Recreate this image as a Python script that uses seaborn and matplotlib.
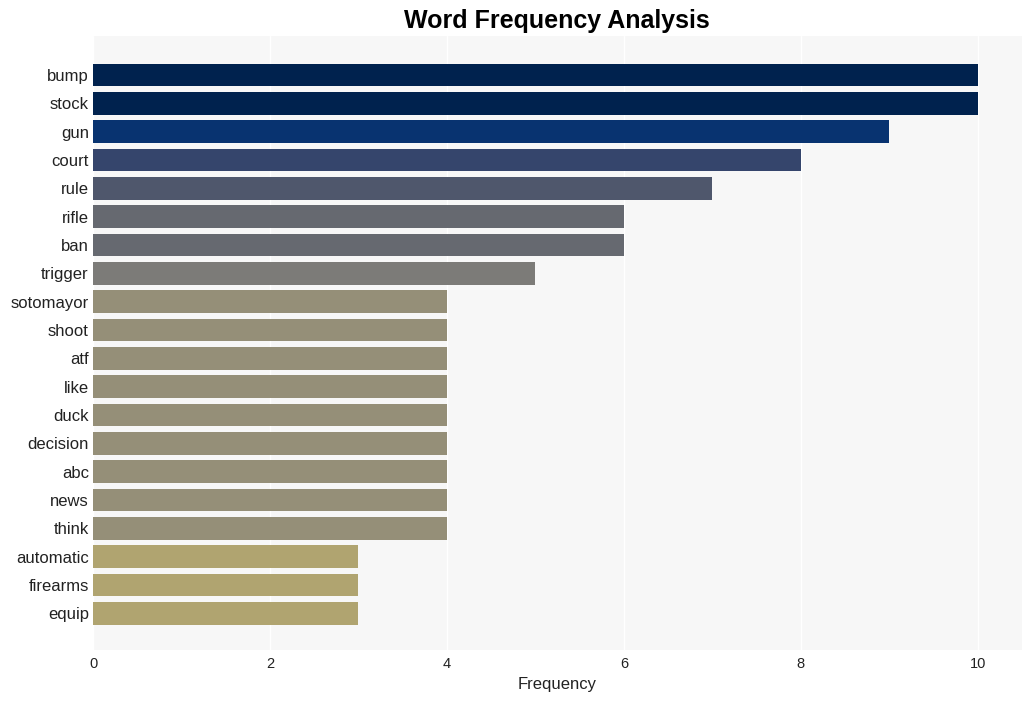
import matplotlib
matplotlib.use("Agg")
import matplotlib.pyplot as plt
import seaborn as sns
import pandas as pd

words = ["bump", "stock", "gun", "court", "rule", "rifle", "ban", "trigger",
         "sotomayor", "shoot", "atf", "like", "duck", "decision", "abc", "news",
         "think", "automatic", "firearms", "equip"]
freqs = [10, 10, 9, 8, 7, 6, 6, 5, 4, 4, 4, 4, 4, 4, 4, 4, 4, 3, 3, 3]
colors = ["#00224e", "#00224e", "#083370", "#35456c", "#4f576c", "#666970",
          "#666970", "#7c7b78", "#958f78", "#958f78", "#958f78", "#958f78",
          "#958f78", "#958f78", "#958f78", "#958f78", "#958f78", "#b0a470",
          "#b0a470", "#b0a470"]

df = pd.DataFrame({"word": words, "freq": freqs})

sns.set_theme(style="darkgrid", rc={"axes.facecolor": "#f7f7f7",
                                    "grid.color": "white", "grid.linewidth": 1.0,
                                    "text.color": "#111111",
                                    "xtick.color": "#222222", "ytick.color": "#222222",
                                    "axes.labelcolor": "#222222"})
plt.rcParams['font.family'] = ['Liberation Sans', 'DejaVu Sans']

fig = plt.figure(figsize=(10.32, 7.01), dpi=100)
ax = fig.add_axes([93/1032, 1 - 650/701, (1022-93)/1032, (650-36)/701])
sns.barplot(data=df, x="freq", y="word", hue="word", palette=colors,
            legend=False, ax=ax, width=0.8, saturation=1, linewidth=0)
ax.set_xlim(0, 10.5)
ax.set_ylim(20.3, -1.38)
ax.set_xticks([0, 2, 4, 6, 8, 10])
ax.set_xlabel("Frequency", fontsize=12)
ax.set_ylabel("")
ax.tick_params(axis="y", labelsize=12, length=0, pad=3)
ax.tick_params(axis="x", labelsize=10.5, length=0, pad=5)
for s in ax.spines.values():
    s.set_visible(False)
fig.text(557/1032, 1 - 21/701, "Word Frequency Analysis", ha="center", va="center",
         fontsize=18, fontweight="bold", color="black")
fig.savefig("out.png", dpi=100)
